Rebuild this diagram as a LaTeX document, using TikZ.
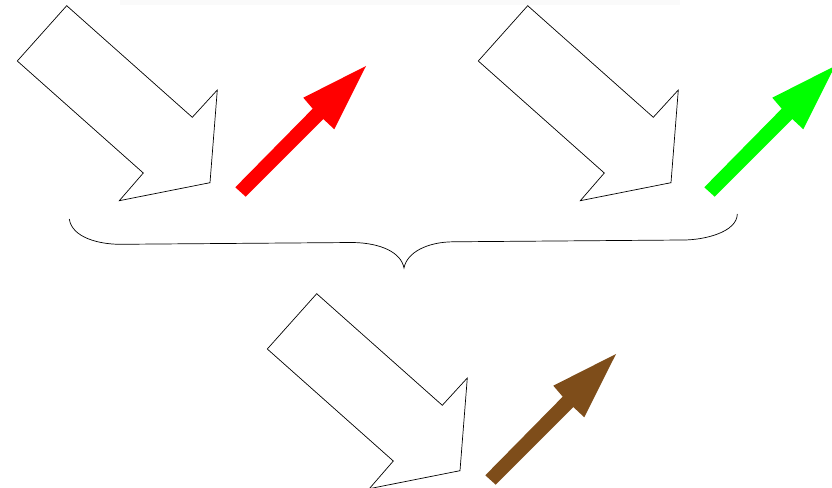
\documentclass[tikz,border=0pt]{standalone}
\usetikzlibrary{calc}
\definecolor{arrbrown}{RGB}{126,77,26}
\begin{document}
\begin{tikzpicture}[x=0.03cm,y=-0.03cm,
  blockarrow/.style={draw=black,fill=white,line width=0.6pt,line join=miter},
  bracestyle/.style={draw=black,line width=0.6pt}]
\useasboundingbox (0,0) rectangle (832,488);
\fill[black!2] (120,0) rectangle (680,5);
\foreach \dx/\dy/\col in {0/0/red, 250/288/arrbrown}{
  \begin{scope}[shift={(\dx,\dy)}]
    \draw[blockarrow] (66.7,5.7) -- (192.3,117.3) -- (217.3,90) -- (210,182.7)
      -- (119.3,200.7) -- (143.3,173) -- (17.3,61) -- cycle;
    \fill[\col] (235.3,187.3) -- (312.7,108.7) -- (303.3,97.7) -- (366,66)
      -- (334.3,129.3) -- (323.3,119) -- (245.7,196.7) -- cycle;
  \end{scope}
}
\begin{scope}[shift={(461,0)}]
  \draw[blockarrow] (66.7,5.7) -- (192.3,117.3) -- (217.3,90) -- (210,182.7)
    -- (119.3,200.7) -- (143.3,173) -- (17.3,61) -- cycle;
\end{scope}
\begin{scope}[shift={(469,0)}]
  \fill[green] (235.3,187.3) -- (312.7,108.7) -- (303.3,97.7) -- (366,66)
    -- (334.3,129.3) -- (323.3,119) -- (245.7,196.7) -- cycle;
\end{scope}
\draw[bracestyle] (69.3,219) .. controls (72,238) and (100,244.3) .. (120,244.3)
  -- (353,242.5) .. controls (380,243) and (401,252) .. (404,268)
  .. controls (407,252) and (428,242) .. (453,241.8)
  -- (683,240) .. controls (705,240) and (737,232) .. (737.3,214);
\end{tikzpicture}
\end{document}
